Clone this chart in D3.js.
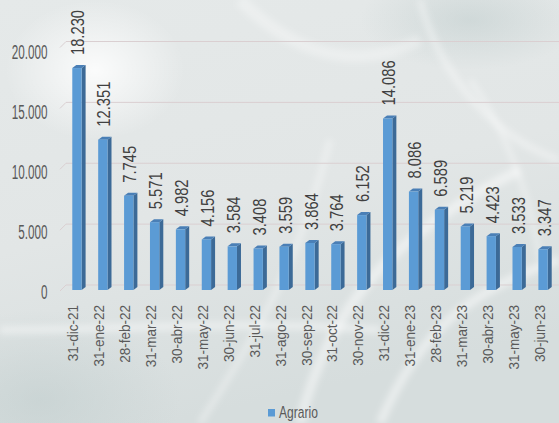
<!DOCTYPE html>
<html>
<head>
<meta charset="utf-8">
<script src="https://cdn.jsdelivr.net/npm/d3@7"></script>
<style>
  html, body { margin: 0; padding: 0; overflow: hidden; }
  svg { display: block; }
</style>
</head>
<body>
<svg id="chart" width="559" height="423"></svg>
<script>
// Month-end balances, Agrario portfolio
const categories = ["31-dic-21","31-ene-22","28-feb-22","31-mar-22","30-abr-22","31-may-22","30-jun-22","31-jul-22","31-ago-22","30-sep-22","31-oct-22","30-nov-22","31-dic-22","31-ene-23","28-feb-23","31-mar-23","30-abr-23","31-may-23","30-jun-23"];
const agrario = [18230,12351,7745,5571,4982,4156,3584,3408,3559,3864,3764,6152,14086,8086,6589,5219,4423,3533,3347];
const yTicks = [0,5000,10000,15000,20000];
const seriesName = "Agrario";

const W = 559, H = 423;
const FONT = "'Liberation Sans',Arial,sans-serif";
const fmt = d => d3.format(",")(d).replace(/,/g, ".");
const svg = d3.select("#chart");
const defs = svg.append("defs");

// ---- background: soft grey-green wash with pale leaf strokes
const bg = defs.append("linearGradient").attr("id","bg").attr("x1",0).attr("y1",0).attr("x2",0.3).attr("y2",1);
bg.append("stop").attr("offset","0%").attr("stop-color","#e5e9e9");
bg.append("stop").attr("offset","55%").attr("stop-color","#e2e6e6");
bg.append("stop").attr("offset","100%").attr("stop-color","#d6dddd");
svg.append("rect").attr("width",W).attr("height",H).attr("fill","url(#bg)");

const glow = defs.append("radialGradient").attr("id","glow");
glow.append("stop").attr("offset","0%").attr("stop-color","#ffffff").attr("stop-opacity",0.85);
glow.append("stop").attr("offset","100%").attr("stop-color","#ffffff").attr("stop-opacity",0);
svg.append("ellipse").attr("cx",95).attr("cy",70).attr("rx",90).attr("ry",70).attr("fill","url(#glow)");

const dark = defs.append("radialGradient").attr("id","dark");
dark.append("stop").attr("offset","0%").attr("stop-color","#bccaca").attr("stop-opacity",0.5);
dark.append("stop").attr("offset","100%").attr("stop-color","#bccaca").attr("stop-opacity",0);
svg.append("ellipse").attr("cx",40).attr("cy",400).attr("rx",140).attr("ry",90).attr("fill","url(#dark)");
svg.append("ellipse").attr("cx",470).attr("cy",20).attr("rx",110).attr("ry",50).attr("fill","url(#dark)");

defs.append("filter").attr("id","soft").append("feGaussianBlur").attr("stdDeviation",3);
const leaves = svg.append("g").attr("filter","url(#soft)").attr("fill","none").attr("stroke","#ffffff");
const leafPaths = [
  ["M300,423 C330,300 400,230 520,170", 10, 0.45],
  ["M200,423 C260,330 300,260 330,140", 6, 0.35],
  ["M380,423 C420,330 470,290 559,260", 9, 0.45],
  ["M420,0 C440,80 500,140 559,160", 7, 0.35],
  ["M240,0 C300,60 360,70 420,40", 12, 0.3],
  ["M0,330 C120,330 240,320 380,330", 8, 0.4],
  ["M470,80 C500,120 530,190 540,260", 5, 0.35]
];
leafPaths.forEach(([d,w,o]) => leaves.append("path").attr("d",d).attr("stroke-width",w).attr("stroke-opacity",o));

// ---- scales
const x = d3.scaleBand().domain(categories).range([64, 556]).paddingInner(0.64).paddingOuter(0.32);
const y = d3.scaleLinear().domain([0, 20000]).range([290, 46.5]);
// tick labels sit on the floor-front plane, slightly apart from the back-wall grid
const yLabel = d3.scaleLinear().domain([0, 20000]).range([292, 52]);
const depthX = 4, depthY = 5;

// gridlines on the back wall
const grid = svg.append("g");
yTicks.forEach(v => {
  grid.append("line").attr("x1",66).attr("x2",W).attr("y1",y(v)-depthY).attr("y2",y(v)-depthY)
    .attr("stroke","#dacfd1").attr("stroke-width",1);
  grid.append("line").attr("x1",60).attr("x2",66).attr("y1",y(v)+1).attr("y2",y(v)-depthY)
    .attr("stroke","#dacfd1").attr("stroke-width",1);
});

// y axis labels (condensed)
svg.append("g").selectAll("text").data(yTicks).join("text")
  .attr("transform", d => `translate(47.5,${yLabel(d)}) scale(0.6,1)`)
  .attr("text-anchor","end").attr("dy","0.36em")
  .attr("fill","#595959").style("font-family",FONT).style("font-size","19.5px")
  .text(fmt);

// ---- 3D bars
const bars = svg.append("g").selectAll("g").data(agrario).join("g");
const bw = x.bandwidth();
bars.append("path").attr("fill","#3c6a97")
  .attr("d",(d,i)=>{const x0=x(categories[i])+bw, t=y(d), b=y(0);
    return `M${x0},${t} L${x0+depthX},${t-depthY+2} L${x0+depthX},${b-depthY+2} L${x0},${b} Z`;});
bars.append("path").attr("fill","#4a7fb6")
  .attr("d",(d,i)=>{const x0=x(categories[i]), t=y(d);
    return `M${x0},${t} L${x0+depthX},${t-depthY+2} L${x0+bw+depthX},${t-depthY+2} L${x0+bw},${t} Z`;});
bars.append("rect").attr("fill","#5b9bd5")
  .attr("x",(d,i)=>x(categories[i])).attr("y",d=>y(d)).attr("width",bw).attr("height",d=>y(0)-y(d));

// value labels, rotated
svg.append("g").selectAll("text").data(agrario).join("text")
  .attr("transform",(d,i)=>`translate(${x(categories[i])+bw/2+7.5},${y(d)-13}) rotate(-90) scale(0.82,1)`)
  .attr("text-anchor","start")
  .attr("fill","#404040")
  .style("font-family",FONT).style("font-size","18px")
  .text(fmt);

// category labels, rotated
svg.append("g").selectAll("text").data(categories).join("text")
  .attr("transform", d => `translate(${x(d)+bw/2+1.5},305) rotate(-90) scale(0.9,1)`)
  .attr("text-anchor","end")
  .attr("fill","#595959").style("font-family",FONT).style("font-size","15px")
  .text(d => d);

// legend
const lg = svg.append("g").attr("transform","translate(268,409)");
lg.append("rect").attr("width",7).attr("height",7.5).attr("fill","#5b9bd5");
lg.append("text").attr("transform","translate(11,9) scale(0.71,1)").attr("fill","#595959")
  .style("font-family",FONT).style("font-size","17px")
  .text(seriesName);
</script>
</body>
</html>
